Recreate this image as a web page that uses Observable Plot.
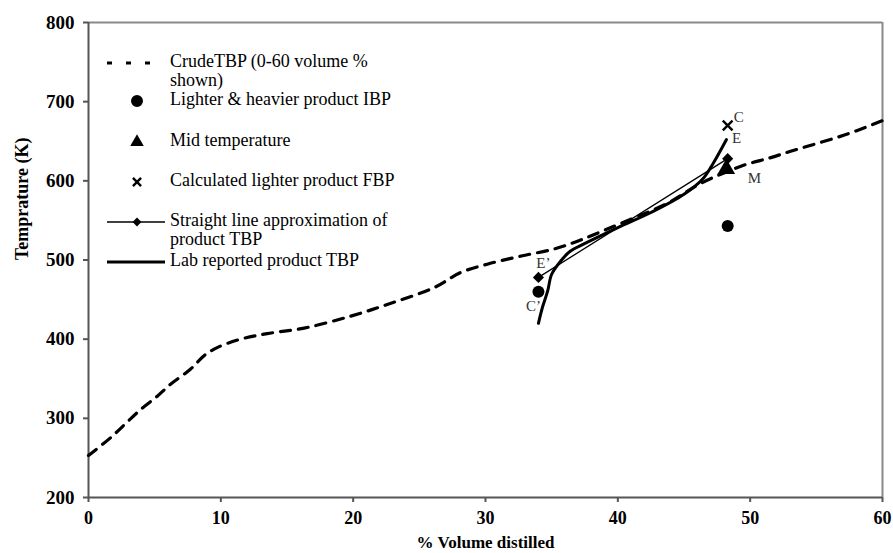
<!DOCTYPE html>
<html>
<head>
<meta charset="utf-8">
<script src="https://cdn.jsdelivr.net/npm/d3@7"></script>
<script src="https://cdn.jsdelivr.net/npm/@observablehq/plot@0.6"></script>
<style>
  body { margin: 0; background: #fff; }
  #chart { position: relative; width: 893px; height: 553px; }
  #chart svg { position: absolute; left: 0; top: 0; }
  #legend { pointer-events: none; }
</style>
</head>
<body>
<div id="chart"></div>
<script>
// Crude oil true boiling point curve (0-60 volume % shown)
const crudeVol = [0, 1.7, 2.9, 4.0, 5.2, 6.2, 7.7, 8.8, 9.8, 11.5, 13.5, 16.3, 19.8, 22.8, 26.1, 28.1, 30.2, 32.7, 35.2, 37.0, 38.9, 41.2, 43.8, 46.3, 49.4, 51.5, 53.0, 54.8, 56.6, 58.0, 60.0];
const crudeTemp = [253, 276, 295, 312, 328, 343, 362, 380, 390, 400, 407, 414, 429, 445, 465, 484, 495, 505, 514, 524, 537, 553, 572, 597, 619, 629, 637, 646, 655, 663, 676];

// Lab reported product TBP
const labVol = [34.0, 34.3, 34.7, 35.0, 35.7, 36.4, 37.4, 40.0, 42.5, 45.0, 46.5, 47.2, 48.2];
const labTemp = [420, 440, 461, 482, 499, 511, 520, 541, 560, 583, 604, 622, 652];

// Straight line approximation of product TBP (E' to E)
const straightVol = [34.0, 48.3];
const straightTemp = [478, 628];

// Lighter & heavier product IBP
const ibpVol = [34.0, 48.3];
const ibpTemp = [460, 543];

// Mid temperature
const midVol = [48.2];
const midTemp = [615];

// Calculated lighter product FBP
const fbpVol = [48.3];
const fbpTemp = [670];

// Point annotations
const noteNames = ["C\u2019", "E\u2019", "C", "E", "M"];
const noteVol = [34.0, 34.0, 48.3, 48.3, 48.2];
const noteTemp = [460, 478, 670, 628, 615];

const xTicks = [0, 10, 20, 30, 40, 50, 60];
const yTicks = [200, 300, 400, 500, 600, 700, 800];

const legendLabels = [
  ["CrudeTBP (0-60 volume %", "shown)"],
  ["Lighter & heavier product IBP"],
  ["Mid temperature"],
  ["Calculated lighter product FBP"],
  ["Straight line approximation of", "product TBP"],
  ["Lab reported product TBP"]
];

const zip = (xs, ys) => xs.map((x, i) => ({x, y: ys[i]}));
const crude = zip(crudeVol, crudeTemp);
const lab = zip(labVol, labTemp);
const straight = zip(straightVol, straightTemp);
const ibp = zip(ibpVol, ibpTemp);
const mid = zip(midVol, midTemp);
const fbp = zip(fbpVol, fbpTemp);
const notes = noteNames.map((name, i) => ({name, x: noteVol[i], y: noteTemp[i]}));
const noteOffsets = {"C\u2019": [-5, 15], "E\u2019": [5, -14], "C": [11, -8], "E": [9, -20], "M": [28, 9]};

const serif = "'Liberation Serif', 'Times New Roman', serif";

const plot = Plot.plot({
  width: 893,
  height: 553,
  marginLeft: 88,
  marginRight: 11,
  marginTop: 22,
  marginBottom: 56,
  style: {fontFamily: serif, background: "white", color: "black"},
  x: {domain: [0, 60]},
  y: {domain: [200, 800]},
  marks: [
    // frame: light top/right borders, darker axis lines
    Plot.ruleY([800], {stroke: "#8a8a8a", strokeWidth: 2}),
    Plot.ruleX([60], {stroke: "#8a8a8a", strokeWidth: 2}),
    Plot.axisX({ticks: xTicks, tickSize: 5, tickPadding: 9, fontSize: 18, fontWeight: "bold", label: null, stroke: "#555", strokeWidth: 2}),
    Plot.axisY({ticks: yTicks, tickSize: 5, tickPadding: 9, fontSize: 19, fontWeight: "bold", label: null, stroke: "#555", strokeWidth: 2}),
    Plot.ruleY([200], {stroke: "#555", strokeWidth: 2}),
    Plot.ruleX([0], {stroke: "#555", strokeWidth: 2}),
    // axis titles
    Plot.text(["% Volume distilled"], {frameAnchor: "bottom", dy: 45, lineAnchor: "middle", fontSize: 17, fontWeight: "bold", fill: "black"}),
    Plot.text(["Temprature (K)"], {frameAnchor: "left", dx: -66, rotate: -90, lineAnchor: "middle", fontSize: 18, fontWeight: "bold", fill: "black"}),
    // series
    Plot.line(crude, {x: "x", y: "y", stroke: "black", strokeWidth: 3.2, strokeDasharray: "10,8", curve: "catmull-rom"}),
    Plot.line(straight, {x: "x", y: "y", stroke: "black", strokeWidth: 1.3}),
    Plot.line(lab, {x: "x", y: "y", stroke: "black", strokeWidth: 3, curve: "catmull-rom"}),
    Plot.dot(straight, {x: "x", y: "y", symbol: "diamond2", r: 5, fill: "black"}),
    Plot.dot(ibp, {x: "x", y: "y", symbol: "circle", r: 6, fill: "black"}),
    Plot.dot(mid, {x: "x", y: "y", symbol: "triangle", r: 6.5, fill: "black"}),
    Plot.dot(fbp, {x: "x", y: "y", symbol: "times", r: 4.5, stroke: "black", strokeWidth: 2.4}),
    // point annotations
    ...notes.map(d => Plot.text([d], {x: "x", y: "y", text: "name", dx: noteOffsets[d.name][0], dy: noteOffsets[d.name][1], fontSize: 15, fill: "#333"}))
  ]
});

const chart = document.getElementById("chart");
chart.appendChild(plot);

// Legend overlay in the upper left of the plotting area
const legend = d3.select(chart).append("svg")
  .attr("id", "legend")
  .attr("width", 893)
  .attr("height", 553)
  .style("font-family", serif);

const rowY = [63, 101, 142, 182, 222, 262];
const lineGap = 19;
const symX = 137, textX = 170;

legend.append("line").attr("x1", 107).attr("x2", 160).attr("y1", rowY[0]).attr("y2", rowY[0])
  .attr("stroke", "black").attr("stroke-width", 3.2).attr("stroke-dasharray", "5,14");
legend.append("path").attr("d", d3.symbol(d3.symbolCircle, 113)()).attr("transform", `translate(${symX},${rowY[1]})`).attr("fill", "black");
legend.append("path").attr("d", d3.symbol(d3.symbolTriangle, 80)()).attr("transform", `translate(${symX},${rowY[2]})`).attr("fill", "black");
legend.append("path").attr("d", d3.symbol(d3.symbolTimes, 45)()).attr("transform", `translate(${symX},${rowY[3]})`).attr("fill", "none").attr("stroke", "black").attr("stroke-width", 2.4);
legend.append("line").attr("x1", 107).attr("x2", 165).attr("y1", rowY[4]).attr("y2", rowY[4]).attr("stroke", "black").attr("stroke-width", 1.3);
legend.append("path").attr("d", d3.symbol(d3.symbolDiamond2, 50)()).attr("transform", `translate(${symX},${rowY[4]})`).attr("fill", "black");
legend.append("line").attr("x1", 107).attr("x2", 165).attr("y1", rowY[5]).attr("y2", rowY[5]).attr("stroke", "black").attr("stroke-width", 3);

legendLabels.forEach((lines, i) => {
  lines.forEach((t, j) => {
    legend.append("text").attr("x", textX).attr("y", rowY[i] + j * lineGap)
      .attr("dominant-baseline", "middle").attr("font-size", 18).attr("fill", "black").text(t);
  });
});
</script>
</body>
</html>
